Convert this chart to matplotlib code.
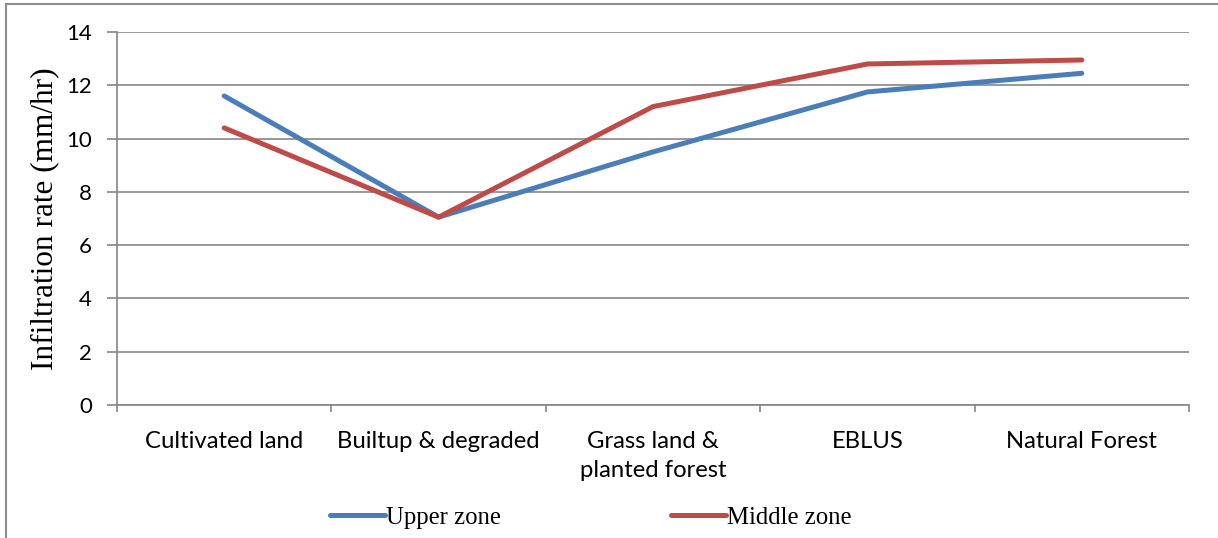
import matplotlib.pyplot as plt
from matplotlib.patches import Rectangle

# data
categories = ['Cultivated land', 'Builtup & degraded', 'Grass land &\nplanted forest',
              'EBLUS', 'Natural Forest']
upper_zone = [11.6, 7.05, 9.5, 11.75, 12.45]
middle_zone = [10.4, 7.05, 11.2, 12.8, 12.95]
y_ticks = [0, 2, 4, 6, 8, 10, 12, 14]

tick_font = 'Lato'
serif_font = 'Liberation Serif'
grid_col = '#868686'

fig = plt.figure(figsize=(12.18, 5.38), dpi=100)
ax = fig.add_axes([117 / 1218, 1 - 405 / 538, (1189 - 117) / 1218, (405 - 32) / 538])

x = list(range(len(categories)))
ax.plot(x, upper_zone, color='#4A7EBB', lw=3.6, solid_capstyle='round', label='Upper zone')
ax.plot(x, middle_zone, color='#BE4B48', lw=3.6, solid_capstyle='round', label='Middle zone')

ax.set_xlim(-0.5, len(categories) - 0.5)
ax.set_ylim(0, 14)
ax.set_yticks(y_ticks)
ax.set_xticks(x)
ax.set_xticklabels(categories, fontfamily=tick_font, fontsize=17.2, linespacing=1.45)
ax.set_xticks([i - 0.5 for i in range(len(categories) + 1)], minor=True)
for lab in ax.get_yticklabels():
    lab.set_fontfamily(tick_font)
    lab.set_fontsize(16)

ax.tick_params(axis='x', which='major', length=0, pad=19)
ax.tick_params(axis='x', which='minor', length=5, width=1.2, color=grid_col, direction='out')
ax.tick_params(axis='y', length=7, width=1.2, color=grid_col, pad=11)

ax.grid(axis='y', color=grid_col, lw=1.2)
ax.set_axisbelow(True)
for s in ['top', 'right']:
    ax.spines[s].set_visible(False)
for s in ['left', 'bottom']:
    ax.spines[s].set_color(grid_col)
    ax.spines[s].set_linewidth(1.2)

ax.set_ylabel('Infiltration rate (mm/hr)', fontfamily=serif_font, fontsize=22.5, labelpad=5)

fig.legend(loc='center', bbox_to_anchor=(0.485, 1 - 518 / 538), ncol=2, frameon=False,
           prop={'family': serif_font, 'size': 17.8}, handlelength=2.2,
           handletextpad=0.05, columnspacing=6.9)

# chart frame (only left/top visible in the crop)
fig.patches.append(Rectangle((6 / 1218, -0.1), 1.2, 1 - 4 / 538 + 0.1,
                             transform=fig.transFigure, fill=False,
                             edgecolor='#8c8c8c', lw=1.5))

fig.savefig('out.png', dpi=100)
